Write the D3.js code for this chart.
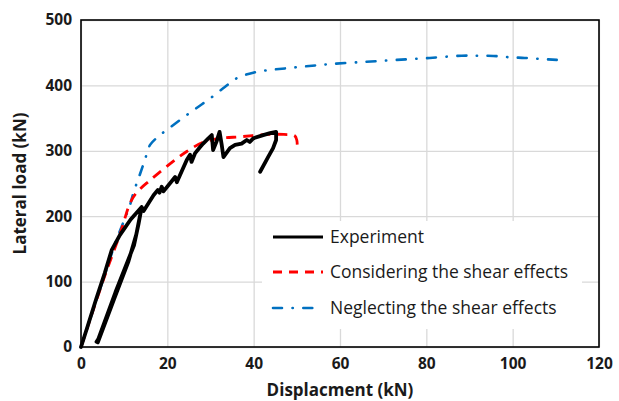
<!DOCTYPE html>
<html>
<head>
<meta charset="utf-8">
<script src="https://cdn.jsdelivr.net/npm/d3@7"></script>
<style>
  html, body { margin: 0; padding: 0; background: #fff; }
  svg { display: block; }
</style>
</head>
<body>
<svg id="chart" width="619" height="401"></svg>
<script>
// Experimental load–displacement record (loading, unload/reload loop, then cyclic peaks)
const expDisp = [0, 1.5, 3.5, 5.5, 7.1, 9.0, 11.5, 14.06,
  13.3, 12.3, 8, 4.0, 3.6, 3.9, 7.6, 11.0, 12.8, 14.06,
  14.5, 16.8, 17.8, 18.2, 18.7, 19.1, 21.8, 22.2, 24.5, 25.25, 25.6, 26.4, 27.5, 28.3,
  29.5, 30.3, 30.6, 31.4, 32.1, 32.6, 33.0, 34.5, 35.7, 37.2, 38.4, 39.1, 39.9, 42.2,
  43.8, 45.2, 45.2, 44.5, 43.4, 41.5];
const expLoad = [0, 31, 73, 113, 148, 171, 195, 214,
  187, 156, 84, 12, 8, 7, 72, 131, 172, 214,
  208, 232, 240, 236, 245, 238, 260, 252, 286, 294, 283, 296, 305, 311,
  319, 324, 301, 314, 329, 309, 290.5, 304, 309, 311, 316.5, 313.5, 319, 324,
  327, 329, 316.5, 304, 291, 268];

// Model including shear deformation
const shearDisp = [0, 3, 6, 9, 11.5, 13, 16, 20.6, 24.5, 28.3, 32.2, 37, 43, 47, 49.5, 50, 50.1];
const shearLoad = [0, 60, 118, 172, 222, 237, 255, 280, 299, 313, 319, 321.5, 325, 325, 323, 316, 305];

// Model neglecting shear deformation
const flexDisp = [0, 5, 8, 11.35, 12.1, 13.6, 14.8, 16, 18.5, 21.4, 24.5, 27.2, 29.9, 33.4, 36.1,
  39.9, 43.6, 47.3, 51.1, 54.6, 58.4, 65.8, 73.1, 80.8, 88.2, 91.7, 95.5, 99.4, 102.8, 106.7, 110.2];
const flexLoad = [0, 100, 160, 217, 235, 263, 286, 309, 325, 339.5, 354.7, 367.4, 380, 398, 411,
  419.4, 423.5, 426, 428.6, 430.7, 433, 436, 439, 442, 445.4, 445.4, 445, 443, 442, 440.4, 439];

const xTicks = [0, 20, 40, 60, 80, 100, 120];
const yTicks = [0, 100, 200, 300, 400, 500];

const seriesNames = ["Experiment", "Considering the shear effects", "Neglecting the shear effects"];
const seriesColors = ["#000000", "#ff0000", "#0070c0"];

const width = 619, height = 401;
const margin = { top: 20, right: 20, bottom: 54, left: 81 };
const svg = d3.select("#chart");

const x = d3.scaleLinear().domain([0, 120]).range([margin.left, width - margin.right]);
const y = d3.scaleLinear().domain([0, 500]).range([height - margin.bottom, margin.top]);

const tickFont = "'Open Sans', sans-serif";

// Gridlines
svg.append("g")
  .attr("transform", `translate(0,${height - margin.bottom})`)
  .call(d3.axisBottom(x).tickValues(xTicks).tickSize(-(height - margin.top - margin.bottom)).tickFormat(""))
  .call(g => g.select(".domain").remove())
  .call(g => g.selectAll("line").attr("stroke", "#d9d9d9").attr("stroke-width", 1.3));
svg.append("g")
  .attr("transform", `translate(${margin.left},0)`)
  .call(d3.axisLeft(y).tickValues(yTicks).tickSize(-(width - margin.left - margin.right)).tickFormat(""))
  .call(g => g.select(".domain").remove())
  .call(g => g.selectAll("line").attr("stroke", "#d9d9d9").attr("stroke-width", 1.3));

// Tick labels
svg.append("g")
  .attr("transform", `translate(0,${height - margin.bottom})`)
  .call(d3.axisBottom(x).tickValues(xTicks).tickSize(0).tickPadding(11).tickFormat(d3.format("d")))
  .call(g => g.select(".domain").remove())
  .call(g => g.selectAll("text")
    .attr("font-family", tickFont).attr("font-weight", "bold").attr("font-size", 15.5).attr("fill", "#1a1a1a"));
svg.append("g")
  .attr("transform", `translate(${margin.left},0)`)
  .call(d3.axisLeft(y).tickValues(yTicks).tickSize(0).tickPadding(9).tickFormat(d3.format("d")))
  .call(g => g.select(".domain").remove())
  .call(g => g.selectAll("text")
    .attr("font-family", tickFont).attr("font-weight", "bold").attr("font-size", 15.5).attr("fill", "#1a1a1a"));

// Plot frame
svg.append("rect")
  .attr("x", margin.left).attr("y", margin.top)
  .attr("width", width - margin.left - margin.right)
  .attr("height", height - margin.top - margin.bottom)
  .attr("fill", "none").attr("stroke", "#000").attr("stroke-width", 1.6);

// Axis titles
svg.append("text")
  .attr("x", (margin.left + width - margin.right) / 2).attr("y", 396)
  .attr("text-anchor", "middle")
  .attr("font-family", tickFont).attr("font-weight", "bold").attr("font-size", 17).attr("fill", "#1a1a1a")
  .text("Displacment (kN)");
svg.append("text")
  .attr("transform", `translate(26,${(margin.top + height - margin.bottom) / 2}) rotate(-90)`)
  .attr("text-anchor", "middle")
  .attr("font-family", tickFont).attr("font-weight", "bold").attr("font-size", 17).attr("fill", "#1a1a1a")
  .text("Lateral load (kN)");

const plot = svg.append("g");
const zip = (xs, ys) => xs.map((v, i) => [v, ys[i]]);

const straight = d3.line().x(d => x(d[0])).y(d => y(d[1]));
const smooth = d3.line().x(d => x(d[0])).y(d => y(d[1])).curve(d3.curveCatmullRom.alpha(0.5));

plot.append("path")
  .datum(zip(flexDisp, flexLoad))
  .attr("d", smooth)
  .attr("fill", "none").attr("stroke", seriesColors[2]).attr("stroke-width", 2.6)
  .attr("stroke-linecap", "round")
  .attr("stroke-dasharray", "9,10.5,0.3,10.5");

plot.append("path")
  .datum(zip(shearDisp, shearLoad))
  .attr("d", smooth)
  .attr("fill", "none").attr("stroke", seriesColors[1]).attr("stroke-width", 2.8)
  .attr("stroke-dasharray", "10,7");

plot.append("path")
  .datum(zip(expDisp, expLoad))
  .attr("d", straight)
  .attr("fill", "none").attr("stroke", seriesColors[0]).attr("stroke-width", 3.8)
  .attr("stroke-linejoin", "round").attr("stroke-linecap", "round");

// Legend
const legend = svg.append("g");
legend.append("rect")
  .attr("x", 262).attr("y", 221).attr("width", 320).attr("height", 108)
  .attr("fill", "#fff");
const rows = [
  { y: 237, dash: null, x2: 323, w: 3.2 },
  { y: 272, dash: "9,7", x2: 323, w: 2.8 },
  { y: 308, dash: "9,10.5,0.3,10.5", x2: 315, w: 2.6 }
];
rows.forEach((r, i) => {
  legend.append("line")
    .attr("x1", 273).attr("x2", r.x2).attr("y1", r.y).attr("y2", r.y)
    .attr("stroke", seriesColors[i]).attr("stroke-width", r.w)
    .attr("stroke-dasharray", r.dash)
    .attr("stroke-linecap", i === 2 ? "round" : "butt");
  legend.append("text")
    .attr("x", 330).attr("y", r.y + 6)
    .attr("font-family", tickFont).attr("font-size", 17.5).attr("fill", "#1a1a1a")
    .text(seriesNames[i]);
});
</script>
</body>
</html>
